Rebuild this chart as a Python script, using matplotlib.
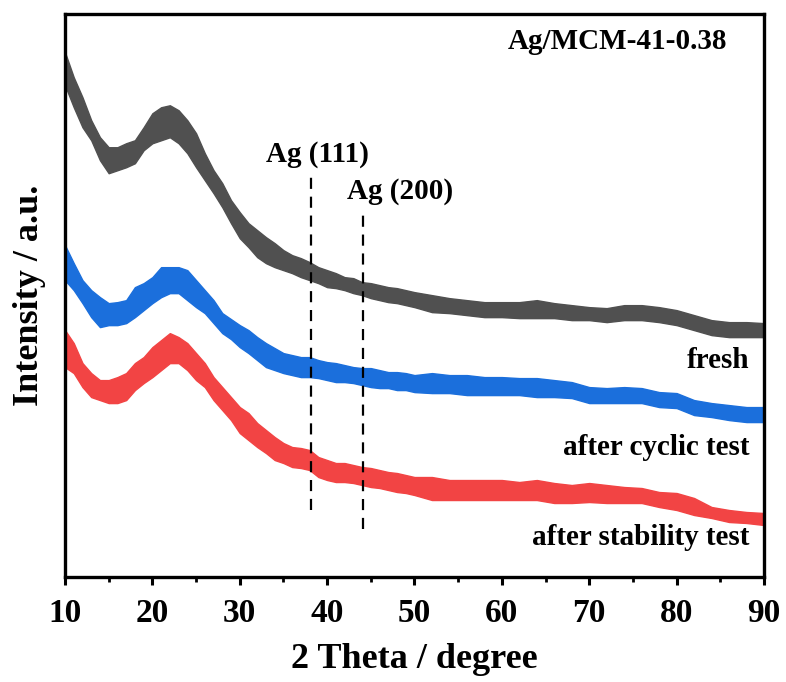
import matplotlib
matplotlib.use("Agg")
import matplotlib.pyplot as plt
from matplotlib.ticker import MultipleLocator

plt.rcParams['font.family'] = ['Liberation Serif', 'DejaVu Serif']
plt.rcParams['font.weight'] = 'bold'

# 2-theta sample positions (degree)
two_theta = [10, 11, 12, 13, 14, 15, 16, 17, 18, 19, 20, 21, 22, 23, 24, 25, 26, 27, 28, 29,
             30, 31, 32, 33, 34, 35, 36, 37, 38, 39, 40, 41, 42, 43, 44, 45, 46, 47, 48, 49,
             50, 52, 54, 56, 58, 60, 62, 64, 66, 68, 70, 72, 74, 76, 78, 80, 82, 84, 86, 88, 90]

# noisy-band envelopes (upper / lower intensity, a.u.)
fresh_upper = [525, 500, 480, 457, 440, 430, 430, 434, 437, 450, 464, 470, 472, 467, 457, 444, 424, 407, 394, 377,
               365, 354, 347, 340, 334, 327, 322, 319, 315, 310, 307, 304, 300, 299, 295, 294, 292, 290, 289, 287,
               285, 282, 279, 277, 275, 275, 275, 277, 274, 272, 270, 269, 272, 272, 270, 267, 262, 257, 255, 255, 254]
fresh_lower = [492, 470, 450, 437, 417, 404, 407, 410, 414, 427, 434, 437, 440, 434, 424, 410, 397, 384, 370, 354,
               339, 330, 320, 314, 310, 307, 304, 300, 297, 294, 290, 289, 287, 284, 282, 279, 277, 275, 274, 272,
               270, 265, 264, 262, 260, 260, 259, 259, 259, 257, 257, 255, 257, 257, 255, 252, 247, 242, 240, 240, 240]

cyclic_upper = [332, 314, 297, 287, 280, 274, 275, 277, 290, 294, 300, 310, 310, 310, 307, 297, 287, 277, 264, 258,
                252, 247, 240, 234, 229, 224, 222, 220, 220, 217, 215, 214, 212, 210, 209, 209, 207, 205, 205, 204,
                202, 204, 202, 202, 200, 200, 199, 199, 197, 195, 190, 189, 190, 189, 185, 184, 177, 174, 172, 170, 170]
cyclic_lower = [297, 287, 274, 260, 250, 252, 252, 254, 260, 267, 274, 280, 284, 284, 277, 270, 264, 254, 244, 238,
                230, 224, 217, 210, 207, 204, 202, 200, 200, 199, 197, 195, 195, 194, 192, 190, 189, 189, 187, 187,
                185, 184, 184, 182, 182, 182, 182, 180, 180, 179, 174, 174, 174, 174, 170, 169, 162, 160, 157, 155, 155]

stability_upper = [247, 234, 214, 204, 197, 197, 200, 204, 214, 220, 230, 237, 244, 240, 234, 224, 214, 200, 190, 180,
                   170, 164, 154, 147, 140, 134, 130, 129, 127, 120, 117, 114, 114, 112, 110, 109, 107, 105, 104, 102,
                   100, 100, 97, 97, 97, 97, 95, 97, 94, 92, 94, 92, 90, 89, 85, 84, 79, 70, 67, 65, 64]
stability_lower = [210, 204, 190, 180, 177, 174, 174, 177, 187, 194, 200, 207, 214, 214, 207, 197, 190, 177, 167, 157,
                   144, 137, 130, 124, 117, 114, 110, 109, 107, 100, 97, 95, 95, 94, 92, 90, 89, 87, 85, 84,
                   82, 77, 77, 77, 77, 77, 77, 77, 74, 74, 75, 74, 74, 74, 70, 67, 62, 59, 55, 54, 52]

series_names = ['fresh', 'after cyclic test', 'after stability test']
series_colors = ['#505050', '#1b6fdc', '#f24444']

# Ag reference positions and dashed-marker spans
ag_peaks = [38.1, 44.1]
ag_labels = ['Ag (111)', 'Ag (200)']
ag_spans = [(67, 407), (48, 364)]

x_ticks = [10, 20, 30, 40, 50, 60, 70, 80, 90]

fig = plt.figure(figsize=(7.86, 6.82), dpi=100)
ax = fig.add_axes([0.0827, 0.154, 0.8893, 0.825])

envelopes = [(fresh_upper, fresh_lower), (cyclic_upper, cyclic_lower), (stability_upper, stability_lower)]
for (up, lo), c in zip(envelopes, series_colors):
    ax.fill_between(two_theta, lo, up, color=c, linewidth=1.0, edgecolor=c)

for pk, (y0, y1) in zip(ag_peaks, ag_spans):
    ax.plot([pk, pk], [y0, y1], color='black', lw=1.6, ls=(0, (5, 3.5)))

# annotations
ax.text(38.9, 416, ag_labels[0], ha='center', va='baseline', fontsize=21, fontweight='bold')
ax.text(48.3, 379, ag_labels[1], ha='center', va='baseline', fontsize=21, fontweight='bold')
ax.text(85.8, 528, 'Ag/MCM-41-0.38', ha='right', va='baseline', fontsize=21, fontweight='bold')
label_y = [209, 122, 32]
for name, yy in zip(series_names, label_y):
    ax.text(88.3, yy, name, ha='right', va='baseline', fontsize=21, fontweight='bold')

ax.set_xlim(10, 90)
ax.set_ylim(0, 563)
ax.set_xticks(x_ticks)
ax.xaxis.set_minor_locator(MultipleLocator(5))
ax.set_yticks([])
ax.tick_params(axis='x', which='major', direction='out', length=6, width=2.2, labelsize=24, pad=9)
ax.tick_params(axis='x', which='minor', direction='out', length=3.5, width=2.0)
for lab in ax.get_xticklabels():
    lab.set_fontweight('bold')
for s in ax.spines.values():
    s.set_linewidth(2.4)

ax.set_xlabel('2 Theta / degree', fontsize=26, fontweight='bold', labelpad=10)
ax.set_ylabel('Intensity / a.u.', fontsize=26, fontweight='bold', labelpad=14)

fig.savefig('out.png', dpi=100)
